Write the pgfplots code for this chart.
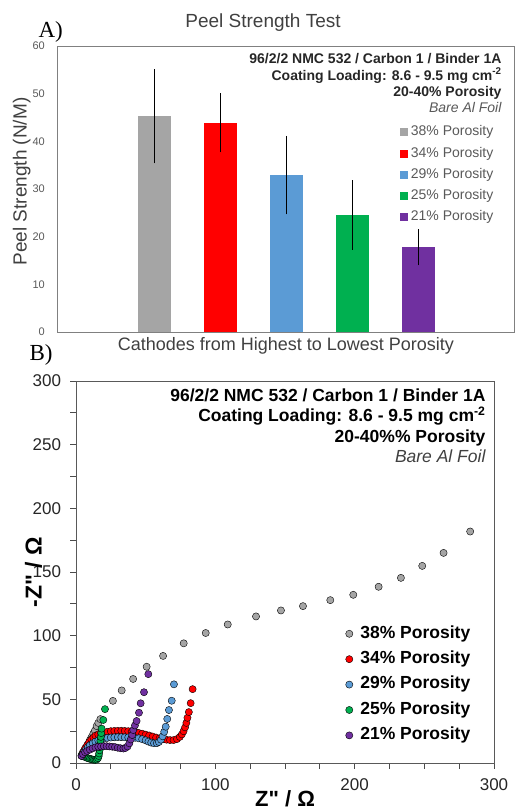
\documentclass[border=0pt]{standalone}
\usepackage{pgfplots}
\pgfplotsset{compat=1.18}
\usepackage{fontspec}
\setmainfont{Liberation Sans}
\newfontfamily\serifA{Liberation Serif}
\definecolor{cGray}{HTML}{A5A5A5}
\definecolor{cRed}{HTML}{FF0000}
\definecolor{cBlue}{HTML}{5B9BD5}
\definecolor{cGreen}{HTML}{00B050}
\definecolor{cPurple}{HTML}{7030A0}
\definecolor{txtGray}{HTML}{595959}
\begin{document}
\begin{tikzpicture}
\path[use as bounding box] (0,0) rectangle (517bp,-811bp);
% ---------------- Panel A ----------------
\begin{axis}[
  at={(57bp,-332bp)}, anchor=south west,
  scale only axis, width=457bp, height=286bp,
  clip mode=individual,
  xmin=-0.484, xmax=6.458, ymin=0, ymax=60,
  ytick={0,10,...,60}, xtick=\empty,
  major tick length=0pt,
  axis line style={black!50, line width=0.8bp},
  /pgf/number format/assume math mode=true,
  yticklabel style={font=\fontsize{11bp}{13bp}\selectfont, text=txtGray, inner sep=0pt, xshift=-12bp},
  xlabel={Cathodes from Highest to Lowest Porosity},
  xlabel style={at={(axis description cs:0.501,-0.0647)}, anchor=base, font=\fontsize{18bp}{21bp}\selectfont, text=black!75},
  ylabel={Peel Strength (N/M)},
  ylabel style={at={(axis description cs:-0.0667,0.526)}, anchor=base, font=\fontsize{19bp}{22bp}\selectfont, text=black!75},
  ybar, bar width=33bp,
  legend image code/.code={\fill[#1] (0bp,-4bp) rectangle (8bp,4bp);},
  legend cell align=left,
  legend style={at={(0.7505,0.7213)}, anchor=north west, draw=none, fill=none, inner sep=0pt,
    font=\fontsize{14bp}{16bp}\selectfont, text=txtGray, row sep=8.25bp, column sep=2.7bp,
    nodes={inner sep=0pt, text height=10bp, text depth=3bp}},
]
\addplot[fill=cGray, draw=none, bar shift=0pt,
  error bars/.cd, y dir=both, y explicit, error bar style={black, line width=0.8bp},
  error mark options={black, line width=0.8bp, mark size=2.5bp}]
  coordinates {(1,45.25) +- (0,9.35)};
\addlegendentry{38\% Porosity}
\addplot[fill=cRed, draw=none, bar shift=0pt,
  error bars/.cd, y dir=both, y explicit, error bar style={black, line width=0.8bp},
  error mark options={black, line width=0.8bp, mark size=2.5bp}]
  coordinates {(2,43.9) +- (0,5.7)};
\addlegendentry{34\% Porosity}
\addplot[fill=cBlue, draw=none, bar shift=0pt,
  error bars/.cd, y dir=both, y explicit, error bar style={black, line width=0.8bp},
  error mark options={black, line width=0.8bp, mark size=2.5bp}]
  coordinates {(3,32.9) +- (0,7.7)};
\addlegendentry{29\% Porosity}
\addplot[fill=cGreen, draw=none, bar shift=0pt,
  error bars/.cd, y dir=both, y explicit, error bar style={black, line width=0.8bp},
  error mark options={black, line width=0.8bp, mark size=2.5bp}]
  coordinates {(4,24.55) +- (0,6.75)};
\addlegendentry{25\% Porosity}
\addplot[fill=cPurple, draw=none, bar shift=0pt,
  error bars/.cd, y dir=both, y explicit, error bar style={black, line width=0.8bp},
  error mark options={black, line width=0.8bp, mark size=2.5bp}]
  coordinates {(5,17.75) +- (0,3.25)};
\addlegendentry{21\% Porosity}
\node[anchor=base, font=\fontsize{19bp}{22bp}\selectfont, text=black!75] at (rel axis cs:0.4508,1.0664) {Peel Strength Test};
\node[anchor=base west, font=\serifA\fontsize{23bp}{26bp}\selectfont] at (rel axis cs:-0.0481,1.03) {A)};
\node[anchor=base east, font=\bfseries\fontsize{14bp}{16bp}\selectfont, text=black!85] at (rel axis cs:0.9803,0.9395) {96/2/2 NMC 532 / Carbon 1 / Binder 1A};
\node[anchor=base east, font=\bfseries\fontsize{14bp}{16bp}\selectfont, text=black!85] at (rel axis cs:0.9803,0.881) {Coating Loading: 8.6 - 9.5 mg cm\textsuperscript{-2}};
\node[anchor=base east, font=\bfseries\fontsize{14bp}{16bp}\selectfont, text=black!85] at (rel axis cs:0.9803,0.825) {20-40\% Porosity};
\node[anchor=base east, font=\itshape\fontsize{14bp}{16bp}\selectfont, text=txtGray] at (rel axis cs:0.9803,0.7668) {Bare Al Foil};
\end{axis}
% ---------------- Panel B ----------------
\begin{axis}[
  at={(76bp,-763bp)}, anchor=south west,
  scale only axis, width=418bp, height=382bp,
  clip mode=individual,
  xmin=0, xmax=300, ymin=0, ymax=300,
  xtick={0,100,200,300}, ytick={0,50,...,300},
  minor x tick num=3, minor y tick num=1,
  tick align=outside, tick pos=left,
  major tick length=5.5bp, minor tick length=5.5bp,
  every tick/.style={black!70, line width=0.8bp},
  axis line style={black!65, line width=1bp},
  /pgf/number format/assume math mode=true,
  ticklabel style={font=\fontsize{17bp}{20bp}\selectfont, text=black!85},
  yticklabel style={xshift=-6bp},
  xticklabel style={yshift=-7bp},
  xlabel={Z\textquotedbl{} / Ω},
  xlabel style={at={(axis description cs:0.5,-0.113)}, anchor=base, font=\bfseries\fontsize{22bp}{25bp}\selectfont},
  ylabel={-Z\textquotedbl{} / Ω},
  ylabel style={at={(axis description cs:-0.0825,0.4987)}, anchor=base, font=\bfseries\fontsize{23bp}{26bp}\selectfont},
  legend image code/.code={\draw[#1] plot coordinates {(3.5bp,0bp)};},
  legend cell align=left,
  legend style={at={(0.6447,0.36)}, anchor=north west, draw=none, fill=none, inner sep=0pt,
    font=\bfseries\fontsize{17.5bp}{20bp}\selectfont, row sep=9.2bp, column sep=7.5bp,
    nodes={inner sep=0pt, text height=12.5bp, text depth=3.7bp}},
]
\addplot[only marks, mark=*, mark size=3.6bp, mark options={draw=none, fill=cGray}] coordinates {
(4,5.5)(5,7.5)(6,9.5)(7,11.5)(8,13.5)(9,15.5)(10,18)(11,20)(12.4,23)(13.6,25.5)(14.8,29)(16,31.5)(17.5,34.5)
(26.5,48.8)(32.8,57)(41,66)(50.7,75.6)(62.5,84.1)(77.3,94)(93.1,102.1)(108.9,108.8)(129.2,115.1)(147.1,119.8)
(162.9,123.2)(182.5,127.9)(199,132.1)(217.2,138.4)(233.2,145.4)(248.5,154.8)(263.8,165)(282.9,181.8)};
\addlegendentry{38\% Porosity}
\addplot[only marks, mark=*, mark size=3.6bp, mark options={draw=none, fill=cRed}] coordinates {
(4,6)(5,8.5)(6.5,11.5)(8,14)(9.5,16.5)(11,18.5)(12.5,20)(14,21.5)(16,22.5)(18,23.5)(20,24)(22.5,24.5)(25,25)
(27.5,25.2)(30,25.3)(32.5,25.3)(35,25.2)(37.5,25)(40,24.6)(42.5,24.2)(45,23.6)(47.5,23)(50,22.3)(52.5,21.6)
(55,20.8)(57.5,20)(60,19.3)(62.5,18.7)(65,18.3)(67.5,18)(70,18)(72.5,18.8)(74.5,20.5)(76,22.5)(77.2,25)
(78.3,28)(79.2,31.5)(80,35.5)(81,40)(82.3,47)(83.7,58)};
\addlegendentry{34\% Porosity}
\addplot[only marks, mark=*, mark size=3.6bp, mark options={draw=none, fill=cBlue}] coordinates {
(4.5,6.5)(5.5,8.5)(7,10.5)(8.5,12.5)(10,14)(12,15.5)(14,16.8)(16,17.8)(18,18.6)(20,19.2)(22.5,19.7)(25,20)
(27.5,20.2)(30,20.3)(32.5,20.3)(35,20.2)(37.5,20.1)(40,20)(42.5,19.8)(45,19.4)(47.5,18.7)(50,17.8)(52,16.8)
(54,16)(56,15.5)(58,15.6)(59.5,16.5)(61,18.3)(62.2,21)(63.3,24.5)(64.4,28.5)(65.5,34.6)(66.7,41.6)(68.7,48.9)(70.3,61.8)};
\addlegendentry{29\% Porosity}
\addplot[only marks, mark=*, mark size=3.6bp, mark options={draw=none, fill=cGreen}] coordinates {
(4,6)(5,5.5)(6,5)(7,4.5)(8,4)(9,3.6)(10,3.3)(11,3)(12,2.7)(13,2.5)(14,2.5)(15,2.8)(15.8,3.8)(16.3,5.5)
(16.6,7.5)(16.9,10)(17.1,12.5)(17.3,15)(17.5,17.5)(17.8,20.5)(18.1,23.5)(18.4,27)(19.6,33.8)(20.8,42.3)};
\addlegendentry{25\% Porosity}
\addplot[only marks, mark=*, mark size=3.6bp, mark options={draw=none, fill=cPurple}] coordinates {
(4,5.5)(5,7)(6.5,8.5)(8,9.5)(10,10.5)(12,11.5)(14,12.3)(16,12.8)(18,13)(20,13.2)(22,13.2)(24,13)(26,12.8)
(28,12.5)(30,12)(32,11.6)(34,11.4)(35.5,11.8)(37,13)(38.3,15.5)(39.3,18.5)(40.3,22)(41.1,25.9)(42.3,29.5)
(43.5,33)(45.2,39.5)(46.4,46.9)(48.8,55.6)(51.9,69.8)};
\addlegendentry{21\% Porosity}
\node[anchor=base west, font=\serifA\fontsize{23bp}{26bp}\selectfont] at (rel axis cs:-0.1196,1.0524) {B)};
\node[anchor=base east, font=\bfseries\fontsize{17.5bp}{20bp}\selectfont] at (rel axis cs:0.988,0.9476) {96/2/2 NMC 532 / Carbon 1 / Binder 1A};
\node[anchor=base east, font=\bfseries\fontsize{17.5bp}{20bp}\selectfont] at (rel axis cs:0.988,0.894) {Coating Loading: 8.6 - 9.5 mg cm\textsuperscript{-2}};
\node[anchor=base east, font=\bfseries\fontsize{17.5bp}{20bp}\selectfont] at (rel axis cs:0.988,0.8403) {20-40\%\% Porosity};
\node[anchor=base east, font=\itshape\fontsize{17.5bp}{20bp}\selectfont, text=black!75] at (rel axis cs:0.988,0.7866) {Bare Al Foil};
\end{axis}
\end{tikzpicture}
\end{document}
